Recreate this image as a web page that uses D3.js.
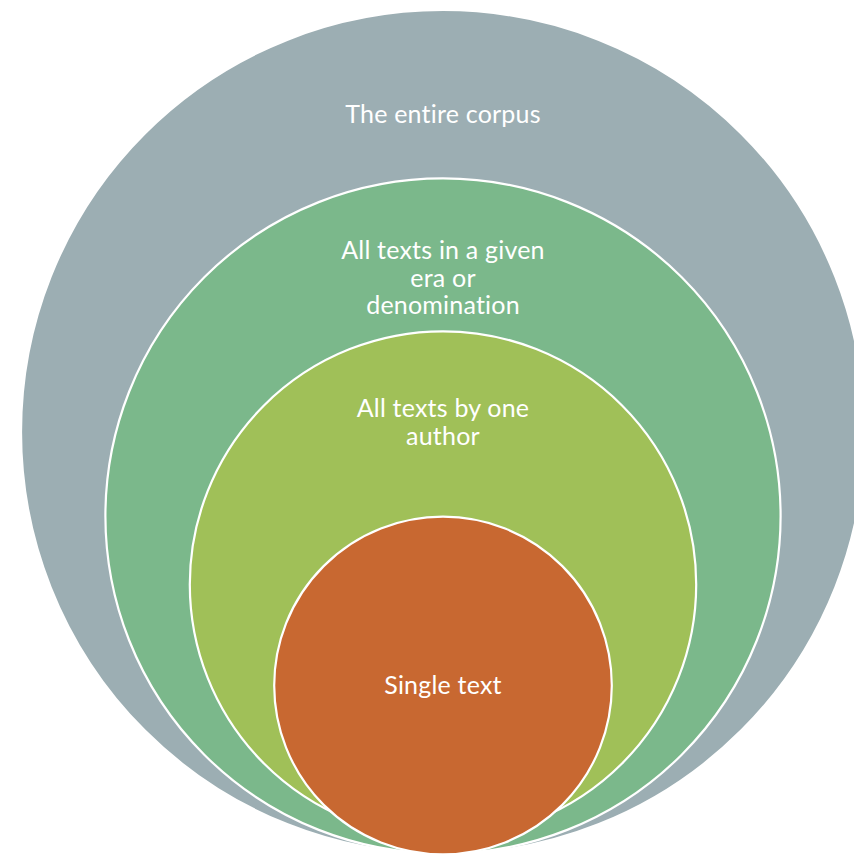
<!DOCTYPE html>
<html>
<head>
<meta charset="utf-8">
<script src="https://cdn.jsdelivr.net/npm/d3@7"></script>
<style>
  html, body { margin: 0; padding: 0; background: #ffffff; }
  svg { display: block; }
</style>
</head>
<body>
<svg id="chart" width="854" height="856"></svg>
<script>
// ---- data ----
const levels = ["The entire corpus", "All texts in a given era or denomination", "All texts by one author", "Single text"];
const labelLines = [
  ["The entire corpus"],
  ["All texts in a given", "era or", "denomination"],
  ["All texts by one", "author"],
  ["Single text"]
];
const relativeSize = [1.0, 0.8, 0.6, 0.4];
const colors = ["#9caeb3", "#7bb88b", "#a0c058", "#c86831"];

// ---- layout ----
const W = 854, H = 856;
const cx = 443;
const centerY = [432, 516, 584.5, 685.5];
const labelBaseline = [123, 259, 417, 694];
const lineHeight = 27.5;

const svg = d3.select("#chart");
const r = d3.scaleLinear().domain([0, 1]).range([0, 422]);

const g = svg.selectAll("g.level")
  .data(levels)
  .join("g")
  .attr("class", "level");

g.append("circle")
  .attr("cx", cx)
  .attr("cy", (d, i) => centerY[i])
  .attr("r", (d, i) => r(relativeSize[i]))
  .attr("fill", (d, i) => colors[i])
  .attr("stroke", "#ffffff")
  .attr("stroke-width", 2.2);

g.append("text")
  .attr("text-anchor", "middle")
  .attr("fill", "#ffffff")
  .style("font-family", "Lato, 'Open Sans', sans-serif")
  .style("font-size", "25px")
  .style("letter-spacing", "0.2px")
  .each(function(d, i) {
    d3.select(this).selectAll("tspan")
      .data(labelLines[i])
      .join("tspan")
      .attr("x", cx)
      .attr("y", (t, j) => labelBaseline[i] + j * lineHeight)
      .text(t => t);
  });
</script>
</body>
</html>
